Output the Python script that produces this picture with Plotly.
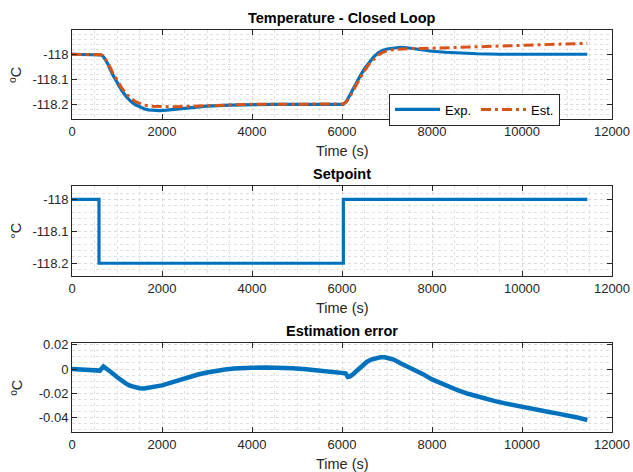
import plotly.graph_objects as go

# ---------------- data ----------------
t_exp = [0, 600, 650, 700, 800, 900, 1000, 1100, 1200, 1300, 1400, 1500, 1600, 1700, 1800,
         1950, 2100, 2300, 2600, 3000, 3500, 4000, 4500, 6030, 6100, 6200, 6300, 6400, 6500,
         6600, 6700, 6800, 6900, 7000, 7150, 7300, 7450, 7600, 7800, 8000, 8300, 8600, 9000,
         9500, 11450]
temp_exp = [-118.0, -118.0, -118.003, -118.01, -118.04, -118.08, -118.113, -118.143, -118.168,
            -118.187, -118.201, -118.211, -118.218, -118.222, -118.224, -118.225, -118.223,
            -118.219, -118.213, -118.207, -118.203, -118.201, -118.2, -118.2, -118.188,
            -118.155, -118.12, -118.088, -118.058, -118.032, -118.011, -117.995, -117.985,
            -117.979, -117.974, -117.972, -117.974, -117.978, -117.984, -117.988, -117.992,
            -117.995, -117.998, -118.0, -118.0]

t_est = [0, 600, 650, 700, 800, 900, 1000, 1100, 1200, 1300, 1400, 1500, 1600, 1800, 2000,
         2300, 2600, 3000, 3500, 4000, 6000, 6030, 6100, 6200, 6300, 6400, 6500, 6600, 6700,
         6800, 6900, 7000, 7200, 7400, 7600, 7800, 8000, 8400, 8700, 9000, 9400, 9800, 10200,
         10600, 11000, 11450]
temp_est = [-118.0, -118.0, -118.002, -118.008, -118.035, -118.072, -118.104, -118.133, -118.157,
            -118.175, -118.188, -118.197, -118.203, -118.208, -118.21, -118.21, -118.208,
            -118.205, -118.202, -118.2, -118.199, -118.199, -118.19, -118.162, -118.128,
            -118.095, -118.065, -118.04, -118.02, -118.004, -117.993, -117.986, -117.98,
            -117.977, -117.977, -117.977, -117.976, -117.972, -117.970, -117.969, -117.966,
            -117.964, -117.962, -117.96, -117.958, -117.956]

t_sp = [0, 600, 6030, 11450]
setpoint = [-118.0, -118.2, -118.0, -118.0]

t_err = [0, 300, 500, 620, 700, 760, 850, 1000, 1100, 1200, 1300, 1400, 1500, 1600, 1700,
         1800, 1900, 2000, 2200, 2400, 2600, 2800, 3000, 3200, 3400, 3600, 3800, 4000, 4300,
         4600, 4900, 5200, 5500, 5800, 6000, 6080, 6130, 6180, 6250, 6350, 6450, 6550, 6650,
         6750, 6850, 6950, 7050, 7150, 7300, 7450, 7600, 7800, 8000, 8200, 8400, 8600, 8800,
         9000, 9200, 9400, 9600, 9800, 10000, 10200, 10400, 10600, 10800, 11000, 11200, 11450]
est_err = [0.0, -0.0003, -0.0007, -0.0013, 0.002, 0.0008, -0.002, -0.0065, -0.0095, -0.012,
           -0.0138, -0.015, -0.0157, -0.0159, -0.0155, -0.0149, -0.0142, -0.0134, -0.0112,
           -0.0088, -0.0065, -0.0045, -0.0028, -0.0014, -0.0004, 0.0004, 0.0009, 0.0011,
           0.0012, 0.0011, 0.0006, -0.0002, -0.0012, -0.0022, -0.003, -0.0035, -0.0065, -0.006,
           -0.004, -0.0005, 0.003, 0.0058, 0.0078, 0.009, 0.0097, 0.0096, 0.0088, 0.0078,
           0.0048, 0.0022, -0.0002, -0.0042, -0.0085, -0.0118, -0.0152, -0.0178, -0.0203,
           -0.0225, -0.0245, -0.0263, -0.028, -0.0296, -0.0311, -0.0326, -0.034, -0.0353,
           -0.0366, -0.0379, -0.0395, -0.0418]

x_ticks = [0, 2000, 4000, 6000, 8000, 10000, 12000]
x_ticklabels = ["0", "2000", "4000", "6000", "8000", "10000", "12000"]
temp_ticks = [-118.2, -118.1, -118.0]
temp_ticklabels = ["-118.2", "-118.1", "-118"]
err_ticks = [-0.04, -0.02, 0.0, 0.02]
err_ticklabels = ["-0.04", "-0.02", "0", "0.02"]

titles = ["Temperature - Closed Loop", "Setpoint", "Estimation error"]
y_titles = ["ºC", "°C", "ºC"]
x_title = "Time (s)"

# ---------------- style ----------------
W, H = 633, 472
BLUE = "#0072BD"
ORANGE = "#D95319"
AX = "#262626"
FONT = "Liberation Sans, Arial, sans-serif"

x_left, x_right = 72, 612
panels = [  # (top px, bottom px, yrange, minor dtick, tick0)
    (30, 119.3, [-118.26, -117.903], 0.02, -118.0),
    (186, 276, [-118.24, -117.958], 0.02, -118.0),
    (342.7, 432.3, [-0.0519, 0.0216], 0.005, 0.0),
]

fig = go.Figure()
fig.add_trace(go.Scatter(x=t_exp, y=temp_exp, mode="lines", name="Exp.",
                         line=dict(color=BLUE, width=3.2), xaxis="x", yaxis="y"))
fig.add_trace(go.Scatter(x=t_est, y=temp_est, mode="lines", name="Est.",
                         line=dict(color=ORANGE, width=3, dash="10px,4px,3px,4px"),
                         xaxis="x", yaxis="y"))
fig.add_trace(go.Scatter(x=t_sp, y=setpoint, mode="lines", showlegend=False,
                         line=dict(color=BLUE, width=3.2, shape="hv"), xaxis="x2", yaxis="y2"))
fig.add_trace(go.Scatter(x=t_err, y=est_err, mode="lines", showlegend=False,
                         line=dict(color=BLUE, width=4.5), xaxis="x3", yaxis="y3"))

layout = dict(
    width=W, height=H, margin=dict(l=0, r=0, t=0, b=0, autoexpand=False),
    paper_bgcolor="white", plot_bgcolor="white",
    font=dict(family=FONT, size=13, color=AX),
    legend=dict(orientation="h", x=389 / W, y=1 - 93.5 / H, xanchor="left", yanchor="top",
                bgcolor="white", bordercolor=AX, borderwidth=1,
                font=dict(family=FONT, size=13, color="black"),
                tracegroupgap=0, itemwidth=45),
    annotations=[],
)

dom_x = [x_left / W, x_right / W]
for i, (top, bot, yr, mdt, t0) in enumerate(panels):
    sfx = "" if i == 0 else str(i + 1)
    dom_y = [1 - bot / H, 1 - top / H]
    layout["xaxis" + sfx] = dict(
        domain=dom_x, range=[0, 12000], anchor="y" + sfx,
        tickvals=x_ticks, ticktext=x_ticklabels,
        ticks="inside", ticklen=5, tickcolor=AX, tickwidth=1,
        showline=True, linecolor=AX, linewidth=1, mirror="ticks",
        showgrid=True, gridcolor="#d9d9d9", gridwidth=1, griddash="dot",
        zeroline=False, tickfont=dict(size=13, color=AX), automargin=False,
        minor=dict(dtick=500, tick0=0, showgrid=True, gridcolor="#e0e0e0",
                   griddash="dot", gridwidth=1, ticks=""),
    )
    if i == 2:
        tv, tt = err_ticks, err_ticklabels
    else:
        tv, tt = temp_ticks, temp_ticklabels
    layout["yaxis" + sfx] = dict(
        domain=dom_y, range=yr, anchor="x" + sfx,
        tickvals=tv, ticktext=tt,
        ticks="inside", ticklen=5, tickcolor=AX, tickwidth=1,
        showline=True, linecolor=AX, linewidth=1, mirror="ticks",
        showgrid=True, gridcolor="#d9d9d9", gridwidth=1, griddash="dot",
        zeroline=False, tickfont=dict(size=13, color=AX), automargin=False,
        minor=dict(dtick=mdt, tick0=t0, showgrid=True, gridcolor="#e0e0e0",
                   griddash="dot", gridwidth=1, ticks=""),
    )
    # panel title
    layout["annotations"].append(dict(
        text="<b>" + titles[i] + "</b>", xref="paper", yref="paper",
        x=(x_left + x_right) / 2 / W, y=1 - (top - 11.5) / H,
        xanchor="center", yanchor="middle", showarrow=False,
        font=dict(family=FONT, size=14.5, color="black")))
    # x title
    layout["annotations"].append(dict(
        text=x_title, xref="paper", yref="paper",
        x=(x_left + x_right) / 2 / W, y=1 - (bot + 32) / H,
        xanchor="center", yanchor="middle", showarrow=False,
        font=dict(family=FONT, size=14.5, color=AX)))
    # y title
    layout["annotations"].append(dict(
        text=y_titles[i], xref="paper", yref="paper", textangle=-90,
        x=16 / W, y=1 - (top + bot) / 2 / H,
        xanchor="center", yanchor="middle", showarrow=False,
        font=dict(family=FONT, size=14.5, color=AX)))

fig.update_layout(**layout)
fig.write_html("out.html")
